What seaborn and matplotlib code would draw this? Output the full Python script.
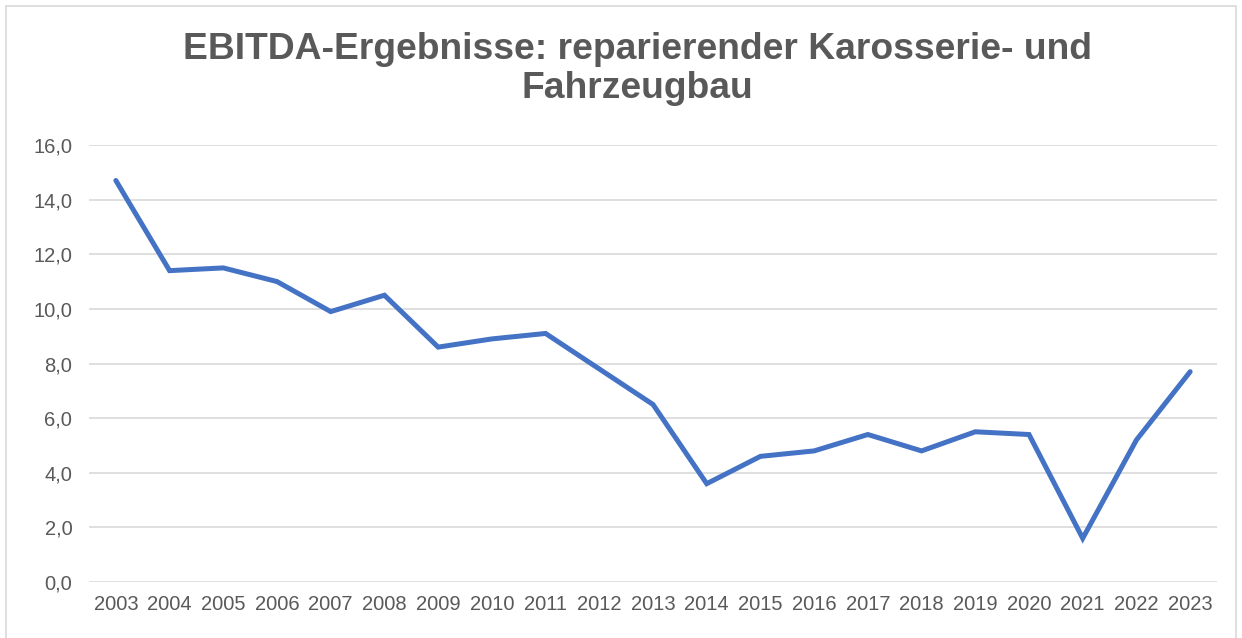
import pandas as pd
import matplotlib.pyplot as plt
import seaborn as sns
from matplotlib.ticker import FuncFormatter, MultipleLocator
from matplotlib.patches import Rectangle

jahre = [str(j) for j in range(2003, 2024)]
ebitda = [14.7, 11.4, 11.5, 11.0, 9.9, 10.5, 8.6, 8.9, 9.1, 7.8, 6.5,
          3.6, 4.6, 4.8, 5.4, 4.8, 5.5, 5.4, 1.6, 5.2, 7.7]

df = pd.DataFrame({"jahr": jahre, "ebitda": ebitda})

sns.set_theme(style="white")
plt.rcParams['font.family'] = ['Liberation Sans', 'DejaVu Sans']

fig = plt.figure(figsize=(12.42, 6.38), dpi=100)
ax = fig.add_axes([89 / 1242, 1 - 582 / 638, (1217 - 89) / 1242, (582 - 145) / 638])

sns.lineplot(data=df, x="jahr", y="ebitda", ax=ax, color="#4472C4",
             linewidth=3.6, solid_joinstyle="miter")

ax.set_xlim(-0.5, len(jahre) - 0.5)
ax.set_ylim(0, 16)
ax.yaxis.set_major_locator(MultipleLocator(2))
ax.yaxis.set_major_formatter(FuncFormatter(lambda v, p: f"{v:.1f}".replace(".", ",")))
ax.grid(axis="y", color="#D9D9D9", linewidth=1.2)
ax.set_axisbelow(True)
for s in ax.spines.values():
    s.set_visible(False)
ax.tick_params(axis="both", length=0, labelsize=14.5, labelcolor="#595959", pad=12)
ax.tick_params(axis="x", pad=9)
ax.set_xlabel("")
ax.set_ylabel("")

fig.text(0.513, 1 - 69 / 638, "EBITDA-Ergebnisse: reparierender Karosserie- und\nFahrzeugbau",
         ha="center", va="center", fontsize=26.8, fontweight="bold", color="#595959",
         linespacing=1.16)

fig.patches.append(Rectangle((6 / 1242, -0.01), 1 - 12 / 1242, 1 - 6 / 638 + 0.01,
                             transform=fig.transFigure,
                             fill=False, edgecolor="#D9D9D9", linewidth=1.2))

fig.savefig("out.png", dpi=100)
